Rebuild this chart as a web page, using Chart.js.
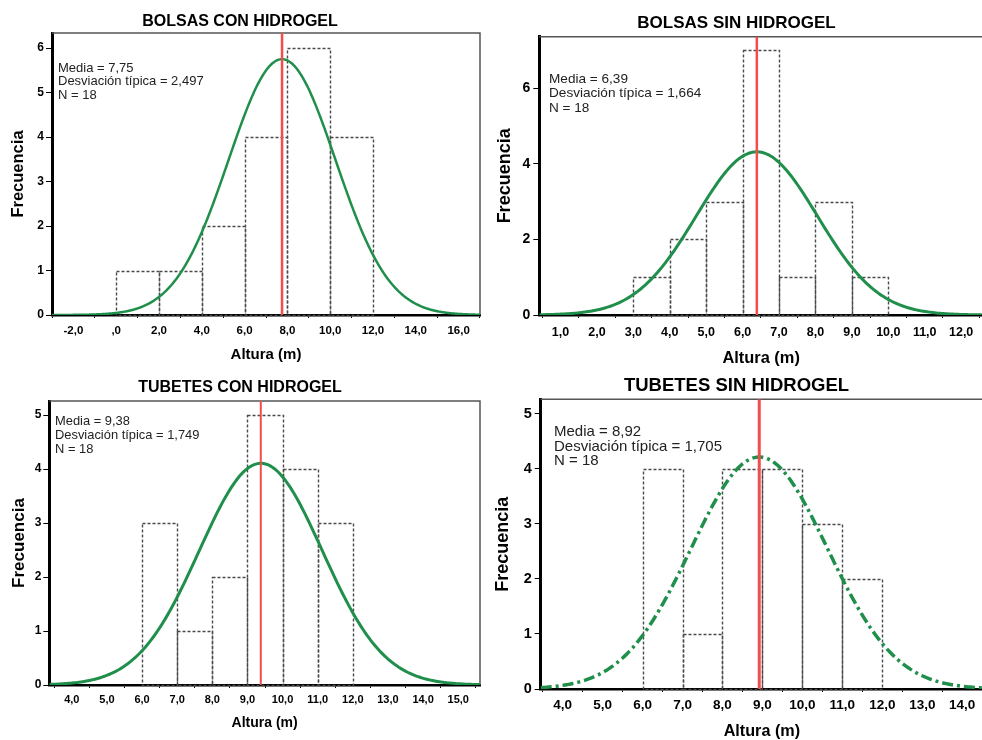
<!DOCTYPE html>
<html>
<head>
<meta charset="utf-8">
<script src="https://cdn.jsdelivr.net/npm/chart.js@4.4.1/dist/chart.umd.min.js"></script>
<style>
  html, body { margin: 0; padding: 0; overflow: hidden; background: #fff; }
  body { width: 982px; height: 740px; position: relative; }
  canvas { position: absolute; }
</style>
</head>
<body>
<canvas id="bolsasCon" width="490" height="370" style="left:0;top:0"></canvas>
<canvas id="bolsasSin" width="505" height="370" style="left:490px;top:0"></canvas>
<canvas id="tubetesCon" width="490" height="370" style="left:0;top:370px"></canvas>
<canvas id="tubetesSin" width="505" height="370" style="left:490px;top:370px"></canvas>
<script>
//////// Data ///////////////////

const titles = ["BOLSAS CON HIDROGEL", "BOLSAS SIN HIDROGEL", "TUBETES CON HIDROGEL", "TUBETES SIN HIDROGEL"];

// bin edges (m) and frequency of every bin
const bolsasConEdges = [0, 2, 4, 6, 8, 10, 12];
const bolsasConCounts = [1, 1, 2, 4, 6, 4];
const bolsasSinEdges = [3, 4, 5, 6, 7, 8, 9, 10];
const bolsasSinCounts = [1, 2, 3, 7, 1, 3, 1];
const tubetesConEdges = [6, 7, 8, 9, 10, 11, 12];
const tubetesConCounts = [3, 1, 2, 5, 4, 3];
const tubetesSinEdges = [6, 7, 8, 9, 10, 11, 12];
const tubetesSinCounts = [4, 1, 4, 4, 3, 2];

// media, desviación típica, N (printed on each chart)
const bolsasConStats = [7.75, 2.497, 18];
const bolsasSinStats = [6.39, 1.664, 18];
const tubetesConStats = [9.38, 1.749, 18];
const tubetesSinStats = [8.92, 1.705, 18];

// tick labels
const bolsasConXTicks = [-2, 0, 2, 4, 6, 8, 10, 12, 14, 16];
const bolsasSinXTicks = [1, 2, 3, 4, 5, 6, 7, 8, 9, 10, 11, 12];
const tubetesConXTicks = [4, 5, 6, 7, 8, 9, 10, 11, 12, 13, 14, 15];
const tubetesSinXTicks = [4, 5, 6, 7, 8, 9, 10, 11, 12, 13, 14];
const bolsasConYTicks = [0, 1, 2, 3, 4, 5, 6];
const bolsasSinYTicks = [0, 2, 4, 6];
const tubetesConYTicks = [0, 1, 2, 3, 4, 5];
const tubetesSinYTicks = [0, 1, 2, 3, 4, 5];

//////// Layout of each panel ///////////

const FONT = "'Liberation Sans', Arial, Helvetica, sans-serif";
const GREEN = "#1f8f4b";
const RED = "#f24c4c";

const panels = [
  {
    id: "bolsasCon", title: titles[0], edges: bolsasConEdges, counts: bolsasConCounts,
    stats: bolsasConStats, xTicks: bolsasConXTicks, yTicks: bolsasConYTicks,
    xMin: -3, xMax: 17, yMax: 6.34,
    yWidth: 52, padRight: 10, xHeight: 55,
    titleSize: 16, titlePad: [12, 1.8],
    xTitleSize: 15, xTitlePad: 6, yTitleSize: 16.5, yTitlePad: 9,
    tickSize: 11.5, yTickSize: 12, xTickPad: 5.5, yTickPad: 2,
    statsPos: [58, 68], statsSize: 13, statsGap: 13.5,
    curveWidth: 2.5, curveDash: [], meanWidth: 2.5,
  },
  {
    id: "bolsasSin", title: titles[1], edges: bolsasSinEdges, counts: bolsasSinCounts,
    stats: bolsasSinStats, xTicks: bolsasSinXTicks, yTicks: bolsasSinYTicks,
    xMin: 0.417, xMax: 12.6, yMax: 7.36,
    yWidth: 49.3, padRight: 12, xHeight: 55,
    titleSize: 17, titlePad: [13.1, 3.2],
    xTitleSize: 16.4, xTitlePad: 2, yTitleSize: 18, yTitlePad: 4,
    tickSize: 12.5, yTickSize: 14, xTickPad: 7.5, yTickPad: 3,
    statsPos: [59, 79], statsSize: 13.6, statsGap: 14.5,
    curveWidth: 3, curveDash: [], meanWidth: 2.5,
  },
  {
    id: "tubetesCon", title: titles[2], edges: tubetesConEdges, counts: tubetesConCounts,
    stats: tubetesConStats, xTicks: tubetesConXTicks, yTicks: tubetesConYTicks,
    xMin: 3.36, xMax: 15.62, yMax: 5.26,
    yWidth: 49.3, padRight: 10, xHeight: 55,
    titleSize: 16, titlePad: [8.4, 3.4],
    xTitleSize: 14, xTitlePad: 8.5, yTitleSize: 17, yTitlePad: 8.8,
    tickSize: 11, yTickSize: 12, xTickPad: 5, yTickPad: 2,
    statsPos: [55, 51.7], statsSize: 12.9, statsGap: 13.7,
    curveWidth: 3, curveDash: [], meanWidth: 2,
  },
  {
    id: "tubetesSin", title: titles[3], edges: tubetesSinEdges, counts: tubetesSinCounts,
    stats: tubetesSinStats, xTicks: tubetesSinXTicks, yTicks: tubetesSinYTicks,
    xMin: 3.45, xMax: 14.52, yMax: 5.26,
    yWidth: 50.7, padRight: 12, xHeight: 51,
    titleSize: 18.5, titlePad: [4.9, 2.2],
    xTitleSize: 16.2, xTitlePad: -1, yTitleSize: 18, yTitlePad: 2.5,
    tickSize: 13.5, yTickSize: 14.5, xTickPad: 5.3, yTickPad: 3,
    statsPos: [64, 62], statsSize: 15, statsGap: 14.5,
    curveWidth: 3.5, curveDash: [11, 4, 3, 4], meanWidth: 3,
  },
];

//////// Helpers ///////////

const commaFmt = function (v) {
  const s = Number(v).toFixed(1).replace(".", ",");
  return s === "0,0" ? ",0" : s;
};

// fitted normal curve scaled to counts: N * binWidth * pdf(x)
const normalCurve = function (stats, binWidth, xMin, xMax) {
  const [mean, sd, n] = stats;
  const pts = [];
  for (let x = xMin; x <= xMax + 1e-9; x += 0.05) {
    const z = (x - mean) / sd;
    pts.push({ x: x, y: (n * binWidth * Math.exp(-0.5 * z * z)) / (sd * Math.sqrt(2 * Math.PI)) });
  }
  return pts;
};

// dashed outline for histogram bars
const histOutline = {
  id: "histOutline",
  afterDatasetDraw(chart, args) {
    if (args.meta.type !== "bar") return;
    const ctx = chart.ctx;
    ctx.save();
    ctx.setLineDash([3, 2]);
    ctx.strokeStyle = "#4a4a4a";
    ctx.lineWidth = 1.4;
    args.meta.data.forEach((bar) => {
      const x0 = Math.round(bar.x - bar.width / 2) + 0.5;
      const x1 = Math.round(bar.x + bar.width / 2) + 0.5;
      const y0 = Math.round(bar.y) + 0.5;
      const y1 = Math.round(bar.base) + 0.5;
      ctx.strokeRect(x0, y0, x1 - x0, y1 - y0);
    });
    ctx.restore();
  },
};

// thin top / right frame of the plot
const frame = {
  id: "frame",
  beforeDatasetsDraw(chart) {
    const { ctx, chartArea: a } = chart;
    ctx.save();
    ctx.strokeStyle = "#555";
    ctx.lineWidth = 1.5;
    ctx.beginPath();
    ctx.moveTo(a.left, a.top);
    ctx.lineTo(a.right, a.top);
    ctx.lineTo(a.right, a.bottom);
    ctx.stroke();
    ctx.restore();
  },
};

// Media / Desviación típica / N box
const statsBox = {
  id: "statsBox",
  afterDraw(chart, args, opts) {
    const ctx = chart.ctx;
    ctx.save();
    ctx.fillStyle = "#222";
    ctx.font = opts.size + "px " + FONT;
    ctx.textAlign = "left";
    ctx.textBaseline = "middle";
    opts.lines.forEach((line, i) => {
      ctx.fillText(line, opts.x, opts.y + i * opts.gap);
    });
    ctx.restore();
  },
};

//////// Build charts ///////////

panels.forEach((p) => {
  const binWidth = p.edges[1] - p.edges[0];
  const bars = p.counts.map((c, i) => ({ x: (p.edges[i] + p.edges[i + 1]) / 2, y: c }));
  const [mean, sd, n] = p.stats;

  new Chart(document.getElementById(p.id), {
    type: "bar",
    data: {
      datasets: [
        {
          type: "bar",
          data: bars,
          backgroundColor: "rgba(0,0,0,0)",
          borderWidth: 0,
          barPercentage: 1,
          categoryPercentage: 1,
          order: 3,
        },
        {
          type: "line",
          data: normalCurve(p.stats, binWidth, p.xMin, p.xMax),
          borderColor: GREEN,
          borderWidth: p.curveWidth,
          borderDash: p.curveDash,
          pointRadius: 0,
          tension: 0,
          order: 2,
        },
        {
          type: "line",
          data: [{ x: mean, y: 0 }, { x: mean, y: p.yMax }],
          borderColor: RED,
          borderWidth: p.meanWidth,
          pointRadius: 0,
          order: 1,
        },
      ],
    },
    options: {
      responsive: false,
      animation: false,
      events: [],
      layout: { padding: { left: 0, top: 0, right: p.padRight, bottom: 0 } },
      scales: {
        x: {
          type: "linear",
          min: p.xMin,
          max: p.xMax,
          offset: false,
          afterBuildTicks: (s) => { s.ticks = p.xTicks.map((v) => ({ value: v })); },
          afterFit: (s) => { s.height = p.xHeight; },
          ticks: {
            callback: (v) => commaFmt(v),
            color: "#000",
            autoSkip: false,
            maxRotation: 0,
            padding: p.xTickPad,
            font: { family: FONT, size: p.tickSize, weight: "bold" },
          },
          grid: { display: true, drawOnChartArea: false, drawTicks: true, tickLength: 3, color: "#000" },
          border: { display: true, color: "#000", width: 2.5 },
          title: {
            display: true,
            text: "Altura (m)",
            color: "#000",
            font: { family: FONT, size: p.xTitleSize, weight: "bold" },
            padding: { top: 0, bottom: p.xTitlePad },
          },
        },
        y: {
          min: 0,
          max: p.yMax,
          afterBuildTicks: (s) => { s.ticks = p.yTicks.map((v) => ({ value: v })); },
          afterFit: (s) => { s.width = p.yWidth; },
          ticks: {
            callback: (v) => String(v),
            color: "#000",
            padding: p.yTickPad,
            font: { family: FONT, size: p.yTickSize, weight: "bold" },
          },
          grid: { display: true, drawOnChartArea: false, drawTicks: true, tickLength: 6, color: "#000" },
          border: { display: true, color: "#000", width: 3 },
          title: {
            display: true,
            text: "Frecuencia",
            color: "#000",
            font: { family: FONT, size: p.yTitleSize, weight: "bold" },
            padding: { top: p.yTitlePad, bottom: 0 },
          },
        },
      },
      plugins: {
        legend: { display: false },
        tooltip: { enabled: false },
        title: {
          display: true,
          text: p.title,
          color: "#000",
          font: { family: FONT, size: p.titleSize, weight: "bold" },
          padding: { top: p.titlePad[0], bottom: p.titlePad[1] },
        },
        statsBox: {
          lines: [
            "Media = " + mean.toFixed(2).replace(".", ","),
            "Desviación típica = " + sd.toFixed(3).replace(".", ","),
            "N = " + n,
          ],
          x: p.statsPos[0],
          y: p.statsPos[1],
          size: p.statsSize,
          gap: p.statsGap,
        },
      },
    },
    plugins: [histOutline, frame, statsBox],
  });
});
</script>
</body>
</html>
